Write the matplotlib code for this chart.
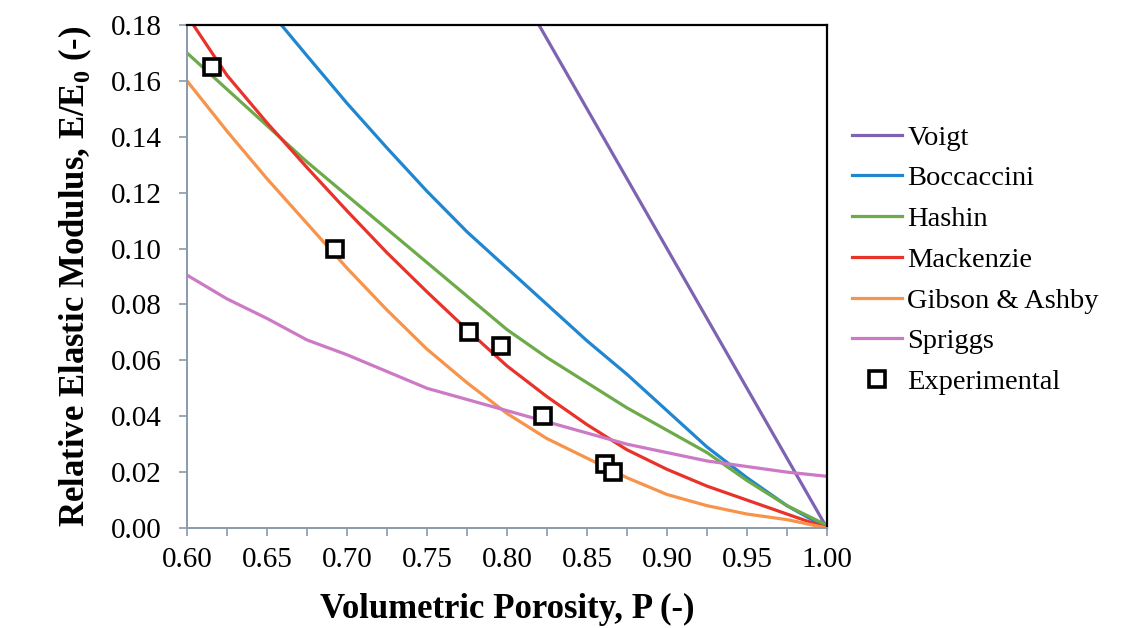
import matplotlib
matplotlib.use('Agg')
import matplotlib.pyplot as plt
from matplotlib.ticker import MultipleLocator

plt.rcParams['font.family'] = ['Liberation Serif', 'DejaVu Serif']
plt.rcParams['mathtext.fontset'] = 'custom'
plt.rcParams['mathtext.rm'] = 'Liberation Serif'
plt.rcParams['mathtext.bf'] = 'Liberation Serif:bold'

# model curves, porosity P vs relative modulus E/E0
voigt_p = [0.82, 1.00]
voigt_e = [0.180, 0.000]

bocc_p = [0.659, 0.675, 0.700, 0.725, 0.750, 0.775, 0.800, 0.825, 0.850, 0.875, 0.900, 0.925, 0.950, 0.975, 1.000]
bocc_e = [0.180, 0.169, 0.152, 0.136, 0.1205, 0.106, 0.093, 0.080, 0.067, 0.055, 0.042, 0.029, 0.018, 0.008, 0.000]

grid_p = [0.600, 0.625, 0.650, 0.675, 0.700, 0.725, 0.750, 0.775, 0.800, 0.825, 0.850, 0.875, 0.900, 0.925, 0.950, 0.975, 1.000]

hashin_p = grid_p
hashin_e = [0.170, 0.157, 0.144, 0.131, 0.119, 0.107, 0.095, 0.083, 0.071, 0.061, 0.052, 0.043, 0.035, 0.027, 0.017, 0.008, 0.001]

mack_p = [0.604] + grid_p[1:]
mack_e = [0.180, 0.162, 0.145, 0.129, 0.1135, 0.0985, 0.0845, 0.071, 0.058, 0.047, 0.037, 0.028, 0.021, 0.015, 0.010, 0.005, 0.000]

gibson_p = grid_p
gibson_e = [0.160, 0.142, 0.125, 0.109, 0.093, 0.078, 0.064, 0.052, 0.041, 0.032, 0.025, 0.018, 0.012, 0.008, 0.005, 0.003, 0.000]

spriggs_p = grid_p
spriggs_e = [0.0905, 0.082, 0.075, 0.0673, 0.062, 0.056, 0.050, 0.046, 0.042, 0.038, 0.034, 0.030, 0.027, 0.024, 0.022, 0.020, 0.0185]

# measured samples
exp_p = [0.6156, 0.6925, 0.776, 0.796, 0.8225, 0.861, 0.866]
exp_e = [0.165, 0.100, 0.070, 0.065, 0.040, 0.023, 0.020]

series = [
    ('Voigt', voigt_p, voigt_e, '#7f63b3'),
    ('Boccaccini', bocc_p, bocc_e, '#1f86cf'),
    ('Hashin', hashin_p, hashin_e, '#6caa4a'),
    ('Mackenzie', mack_p, mack_e, '#e8332b'),
    ('Gibson & Ashby', gibson_p, gibson_e, '#f7934a'),
    ('Spriggs', spriggs_p, spriggs_e, '#cc79c6'),
]

fig = plt.figure(figsize=(11.43, 6.28), dpi=100)
ax = fig.add_axes([0.1636, 0.1592, 0.5599, 0.8010])

for name, p, e, c in series:
    ax.plot(p, e, color=c, lw=2.3, label=name)

ax.plot(exp_p, exp_e, ls='none', marker='s', ms=11, mfc='white', mec='black',
        mew=2.6, label='Experimental')

ax.set_xlim(0.60, 1.00)
ax.set_ylim(0.0, 0.18)
ax.xaxis.set_major_locator(MultipleLocator(0.05))
ax.xaxis.set_minor_locator(MultipleLocator(0.025))
ax.yaxis.set_major_locator(MultipleLocator(0.02))
ax.xaxis.set_major_formatter(plt.FormatStrFormatter('%.2f'))
ax.yaxis.set_major_formatter(plt.FormatStrFormatter('%.2f'))

axis_grey = '#8a9aab'
for side in ['left', 'bottom']:
    ax.spines[side].set_color(axis_grey)
    ax.spines[side].set_linewidth(1.4)
for side in ['top', 'right']:
    ax.spines[side].set_color('black')
    ax.spines[side].set_linewidth(1.6)

ax.tick_params(axis='both', which='both', direction='out', length=6, width=1.2,
               color=axis_grey, labelsize=21)
ax.tick_params(axis='y', pad=12)
ax.tick_params(axis='x', pad=8)

ax.set_xlabel('Volumetric Porosity, P (-)', fontsize=25, fontweight='bold', labelpad=14)
ax.set_ylabel(r'Relative Elastic Modulus, E/E$_\mathbf{0}$ (-)', fontsize=25,
              fontweight='bold', labelpad=12)

ax.legend(loc='center left', bbox_to_anchor=(1.021, 0.533), frameon=False, fontsize=20.5,
          handlelength=1.75, handletextpad=0.2, labelspacing=0.52, borderaxespad=0)

fig.savefig('out.png', dpi=100)
